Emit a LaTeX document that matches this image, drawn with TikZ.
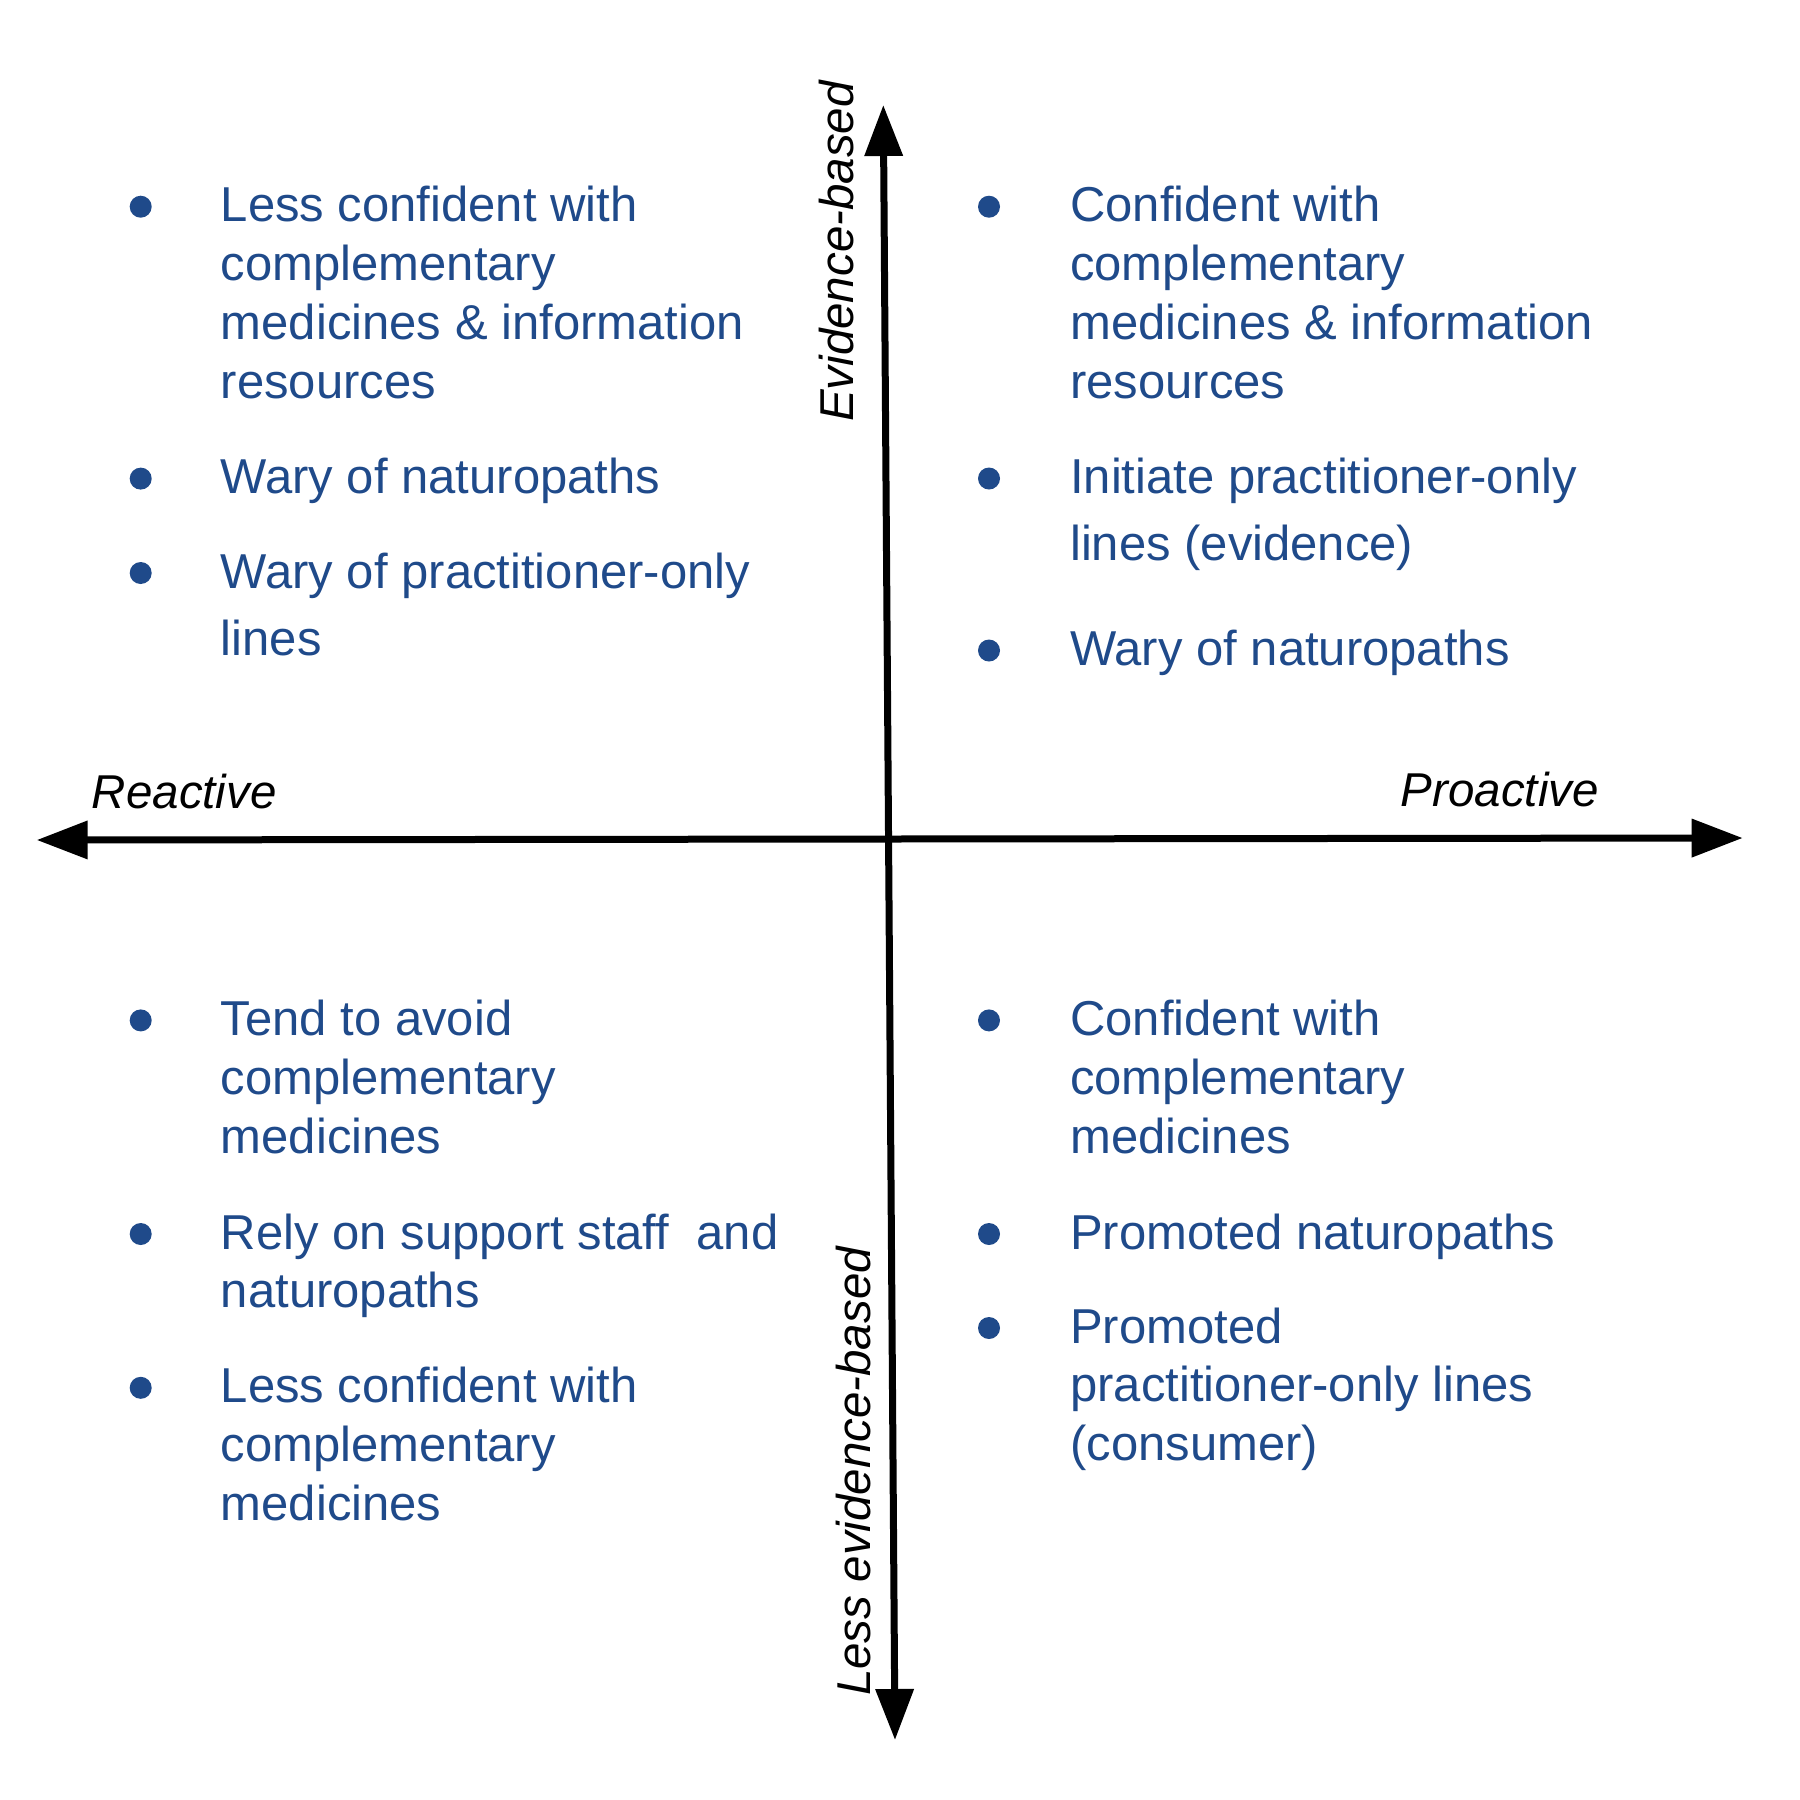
\documentclass[tikz,border=0pt]{standalone}
\usepackage{fontspec}
\setmainfont{Liberation Sans}
\usetikzlibrary{arrows.meta}
\definecolor{txtblue}{HTML}{1F4A8A}
\tikzset{
  axis/.style={line width=7pt, {Triangle[length=51pt,width=37pt]}-{Triangle[length=51pt,width=37pt]}},
  axlabel/.style={inner sep=0pt, font=\fontsize{47.5}{56}\selectfont\itshape, text=black},
  bul/.style={circle, fill=txtblue, minimum size=22pt, inner sep=0pt},
  itemtext/.style={inner sep=0pt, anchor=base west, text=txtblue},
}
\newcommand\itm[2]{\fontsize{49}{#1}\selectfont\begin{tabular}[t]{@{}l@{}}#2\end{tabular}}
\begin{document}
\begin{tikzpicture}[x=1pt,y=-1pt]
\useasboundingbox (0,0) rectangle (1800,1800);
% axes
\coordinate (L) at (36.7,840);
\coordinate (R) at (1742.7,838);
\coordinate (T) at (883.3,105);
\coordinate (B) at (895,1740);
\draw[axis] (L) -- (R);
\draw[axis] (B) -- (T);
% axis labels
\node[axlabel, anchor=base west] (reac) at (91.7,808) {Reactive};
\node[axlabel, anchor=base east] (proa) at (1599,806.7) {Proactive};
\node[axlabel, anchor=base west, rotate=90] (evid) at (853,422) {Evidence-based};
\node[axlabel, anchor=base west, rotate=90] (levid) at (870,1696) {Less evidence-based};
% top-left
\node[bul] (tlb1) at (140.7,206.7) {};
\node[itemtext] (tl1) at (220.7,221.7) {\itm{58.9}{Less confident with\\complementary\\medicines \& information\\resources}};
\node[bul] (tlb2) at (140.7,478.6) {};
\node[itemtext] (tl2) at (220.7,493.6) {\itm{58.9}{Wary of naturopaths}};
\node[bul] (tlb3) at (140.7,573) {};
\node[itemtext] (tl3) at (220.7,588) {\itm{67.5}{Wary of practitioner-only\\lines}};
% top-right
\node[bul] (trb1) at (989,206.7) {};
\node[itemtext] (tr1) at (1070,221.7) {\itm{58.9}{Confident with\\complementary\\medicines \& information\\resources}};
\node[bul] (trb2) at (989,478.5) {};
\node[itemtext] (tr2) at (1070,493.5) {\itm{66.7}{Initiate practitioner-only\\lines (evidence)}};
\node[bul] (trb3) at (989,650.5) {};
\node[itemtext] (tr3) at (1070,665.5) {\itm{58.9}{Wary of naturopaths}};
% bottom-left
\node[bul] (blb1) at (140.7,1020.4) {};
\node[itemtext] (bl1) at (220.7,1035.4) {\itm{58.9}{Tend to avoid\\complementary\\medicines}};
\node[bul] (blb2) at (140.7,1234) {};
\node[itemtext] (bl2) at (220.7,1249) {\itm{58.9}{Rely on support staff\ \ and\\naturopaths}};
\node[bul] (blb3) at (140.7,1387.8) {};
\node[itemtext] (bl3) at (220.7,1402.8) {\itm{58.9}{Less confident with\\complementary\\medicines}};
% bottom-right
\node[bul] (brb1) at (989,1020.4) {};
\node[itemtext] (br1) at (1070,1035.4) {\itm{58.9}{Confident with\\complementary\\medicines}};
\node[bul] (brb2) at (989,1234) {};
\node[itemtext] (br2) at (1070,1249) {\itm{58.9}{Promoted naturopaths}};
\node[bul] (brb3) at (989,1328) {};
\node[itemtext] (br3) at (1070,1343) {\itm{58.9}{Promoted\\practitioner-only lines\\(consumer)}};
\end{tikzpicture}
\end{document}
